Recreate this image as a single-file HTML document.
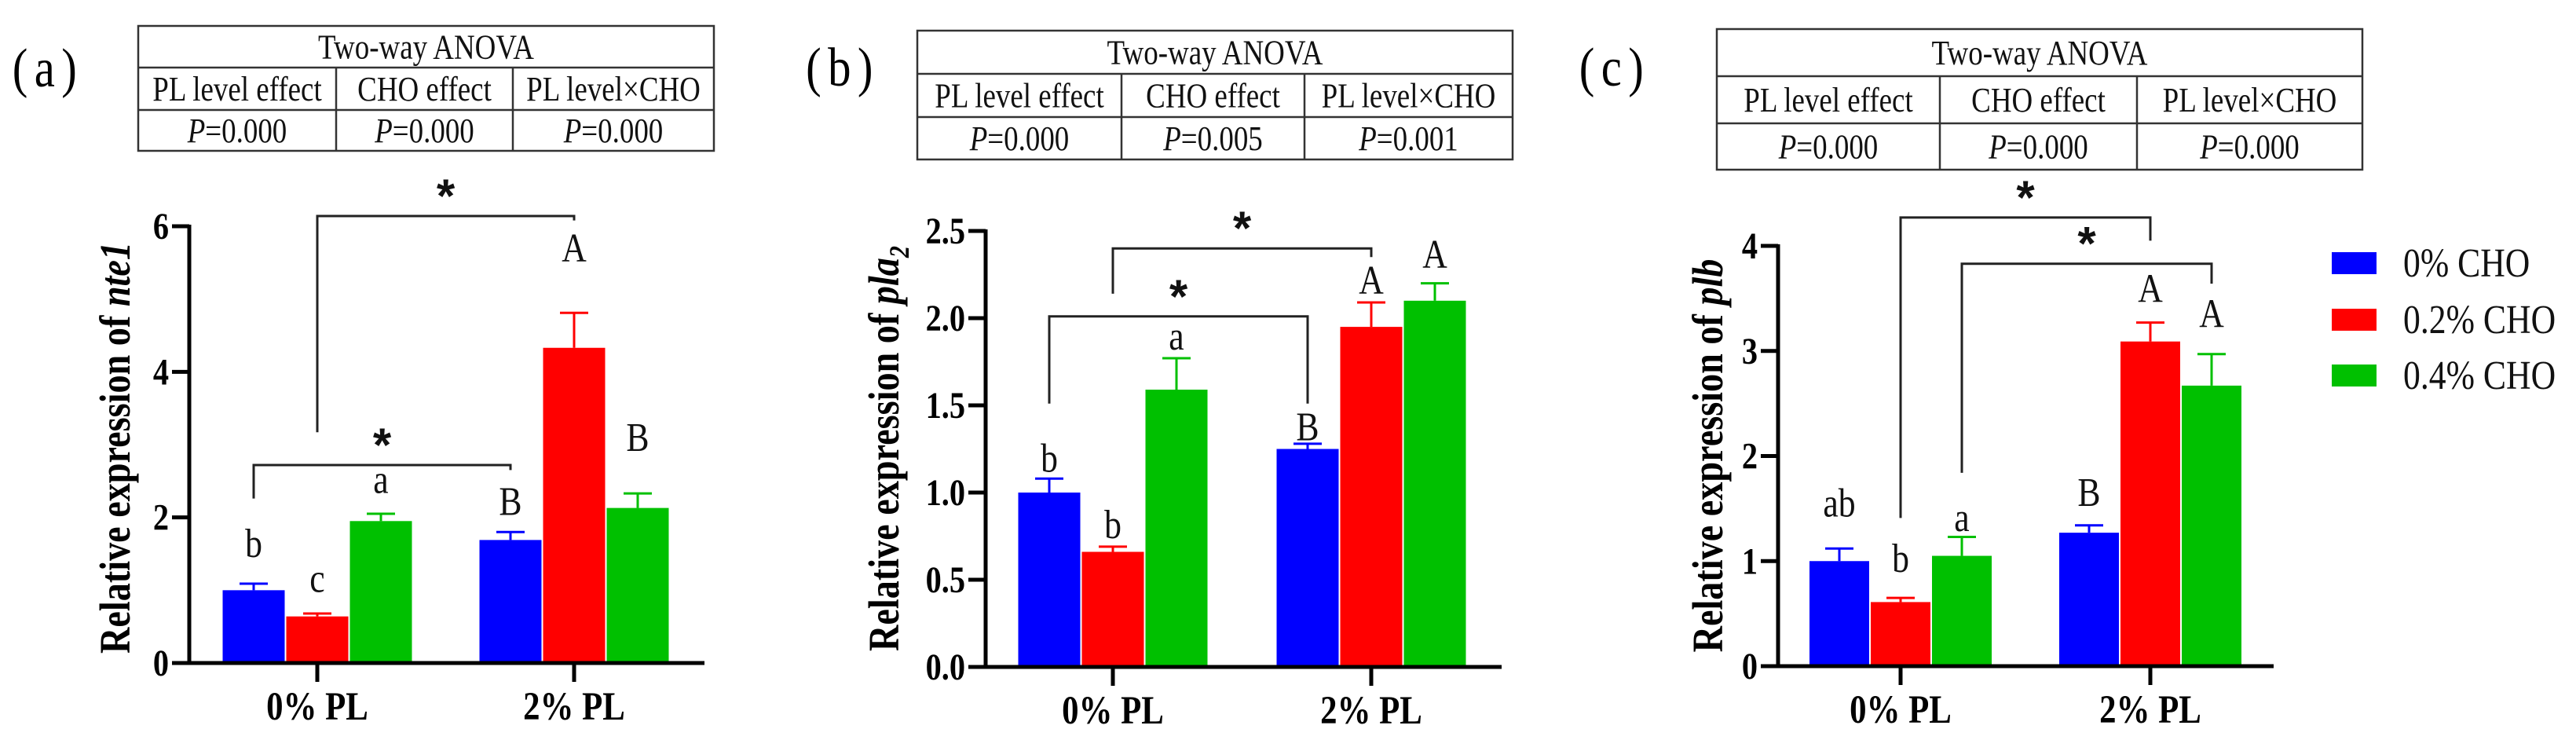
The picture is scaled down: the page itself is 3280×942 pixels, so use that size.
<!DOCTYPE html>
<html><head><meta charset="utf-8"><style>
html,body{margin:0;padding:0;background:#fff;}
svg{display:block;}
svg text{font-family:"Liberation Serif", "DejaVu Serif", serif;}
svg text.star{font-family:"Liberation Sans", sans-serif;}
</style></head><body>
<svg id="fig" width="3280" height="942" viewBox="0 0 3280 942" xmlns="http://www.w3.org/2000/svg">
</svg>
<script>
// ---------- data ----------
const groups = ["0% PL", "2% PL"];
const seriesNames = ["0% CHO", "0.2% CHO", "0.4% CHO"];
const seriesColors = ["#0000ff", "#ff0000", "#00c000"];

const aBlue = [1.0, 1.69], aBlueErr = [0.09, 0.11];
const aRed = [0.64, 4.33], aRedErr = [0.04, 0.48];
const aGreen = [1.95, 2.13], aGreenErr = [0.10, 0.20];
const aTicks = [0, 2, 4, 6];
const aLetters = [["b",1.65],["c",1.17],["a",2.53],["B",2.23],["A",5.71],["B",3.11]];

const bBlue = [1.0, 1.25], bBlueErr = [0.08, 0.03];
const bRed = [0.66, 1.95], bRedErr = [0.03, 0.14];
const bGreen = [1.59, 2.10], bGreenErr = [0.18, 0.10];
const bTicks = ["0.0", "0.5", "1.0", "1.5", "2.0", "2.5"];
const bLetters = [["b",1.20],["b",0.82],["a",1.90],["B",1.38],["A",2.22],["A",2.37]];

const cBlue = [1.0, 1.27], cBlueErr = [0.12, 0.07];
const cRed = [0.61, 3.09], cRedErr = [0.04, 0.18];
const cGreen = [1.05, 2.67], cGreenErr = [0.18, 0.30];
const cTicks = [0, 1, 2, 3, 4];
const cLetters = [["ab",1.56],["b",1.03],["a",1.42],["B",1.66],["A",3.60],["A",3.36]];

// brackets: [fromBar, toBar, yTop, yLeftEnd, yRightEnd]
const aBrackets = [[0,3,2.72,2.26,2.65],[1,4,6.14,3.17,6.08]];
const bBrackets = [[0,3,2.01,1.51,1.51],[1,4,2.40,2.14,2.35]];
const cBrackets = [[1,4,4.27,1.41,4.05],[2,5,3.83,1.84,3.64]];

const aAnova = ["P=0.000","P=0.000","P=0.000"];
const bAnova = ["P=0.000","P=0.005","P=0.001"];
const cAnova = ["P=0.000","P=0.000","P=0.000"];

// ---------- drawing ----------
const NS = "http://www.w3.org/2000/svg";
const svg = document.getElementById("fig");
const SX = 0.84;
function mk(tag, attrs, parent){
  const e = document.createElementNS(NS, tag);
  for (const k in attrs) e.setAttribute(k, attrs[k]);
  (parent||svg).appendChild(e);
  return e;
}
function txt(x, y, size, attrs, parent, rot){
  const a = Object.assign({x:0, y:0, "font-size":size, transform:`translate(${x},${y})${rot?' rotate(-90)':''} scale(${SX},1)`}, attrs);
  return mk("text", a, parent);
}

function drawPanel(cfg){
  const g = mk("g", {});
  
  
  const yS = v => cfg.y0 - (v / cfg.max) * (cfg.y0 - cfg.yTop);
  const barX = i => { const gi = Math.floor(i/3), s = i%3; return cfg.centers[gi] + (s-1)*cfg.barW; };

  const pl = txt(cfg.lab[0], cfg.lab[1]+23, 70, {"text-anchor":"middle", "letter-spacing": 10}, g);
  pl.textContent = "(" + cfg.id + ")";
  
  

  const t = cfg.table;
  const tg = mk("g", {}, g);
  
  
  mk("rect", {x:t.x0, y:t.ys[0], width:t.x1-t.x0, height:t.ys[3]-t.ys[0], fill:"none", stroke:"#333", "stroke-width":2.5}, tg);
  mk("line", {x1:t.x0, x2:t.x1, y1:t.ys[1], y2:t.ys[1], stroke:"#333", "stroke-width":2.5}, tg);
  mk("line", {x1:t.x0, x2:t.x1, y1:t.ys[2], y2:t.ys[2], stroke:"#333", "stroke-width":2.5}, tg);
  mk("line", {x1:t.c1, x2:t.c1, y1:t.ys[1], y2:t.ys[3], stroke:"#333", "stroke-width":2.5}, tg);
  mk("line", {x1:t.c2, x2:t.c2, y1:t.ys[1], y2:t.ys[3], stroke:"#333", "stroke-width":2.5}, tg);
  const hd = txt((t.x0+t.x1)/2, (t.ys[0]+t.ys[1])/2+15, 44, {"text-anchor":"middle", fill:"#111"}, tg);
  hd.textContent = "Two-way ANOVA";
  const cols = [(t.x0+t.c1)/2, (t.c1+t.c2)/2, (t.c2+t.x1)/2];
  const heads = ["PL level effect","CHO effect","PL level×CHO"];
  for (let i=0;i<3;i++){
    const h = txt(cols[i], (t.ys[1]+t.ys[2])/2+15, 44, {"text-anchor":"middle", fill:"#111"}, tg);
    h.textContent = heads[i];
    const p = txt(cols[i], (t.ys[2]+t.ys[3])/2+15, 44, {"text-anchor":"middle", fill:"#111"}, tg);
    const it = mk("tspan", {"font-style":"italic"}, p); it.textContent = "P";
    const rest = mk("tspan", {}, p); rest.textContent = cfg.anova[i].slice(1);
  }

  const vals = [cfg.blue, cfg.red, cfg.green], errs = [cfg.blueErr, cfg.redErr, cfg.greenErr];
  for (let gi=0; gi<2; gi++){
    for (let s=0; s<3; s++){
      const i = gi*3+s, cx = barX(i), v = vals[s][gi], e = errs[s][gi];
      const top = yS(v), cap = yS(v+e);
      const r = mk("rect", {x:cx-cfg.barW/2+1, y:top, width:cfg.barW-2, height:cfg.y0-top, fill:seriesColors[s]}, g);
      
      
      mk("line", {x1:cx, x2:cx, y1:top, y2:cap, stroke:seriesColors[s], "stroke-width":3}, g);
      mk("line", {x1:cx-18, x2:cx+18, y1:cap, y2:cap, stroke:seriesColors[s], "stroke-width":3}, g);
      const L = cfg.letters[i];
      const lt = txt(cx, yS(L[1])+18, 52, {"text-anchor":"middle", fill:"#111"}, g);
      lt.textContent = L[0];
      
      
    }
  }

  cfg.brackets.forEach(b => {
    const x1 = barX(b[0]), x2 = barX(b[1]);
    const p = mk("path", {d:`M${x1},${yS(b[3])} L${x1},${yS(b[2])} L${x2},${yS(b[2])} L${x2},${yS(b[4])}`, fill:"none", stroke:"#222", "stroke-width":3}, g);
    
    
    const st = mk("text", {x:(x1+x2)/2, y:yS(b[2])-5, "font-size":60, "font-weight":"bold", "text-anchor":"middle", "class":"star", fill:"#111"}, g);
    st.textContent = "*";
    
    
  });

  const ax = mk("g", {}, g);
  
  
  mk("line", {x1:cfg.axisX, x2:cfg.axisX, y1:cfg.yTop-2, y2:cfg.y0+2.5, stroke:"#000", "stroke-width":5}, ax);
  mk("line", {x1:cfg.axisX-22, x2:cfg.xEnd, y1:cfg.y0, y2:cfg.y0, stroke:"#000", "stroke-width":5}, ax);
  cfg.ticks.forEach(tk => {
    const y = yS(parseFloat(tk));
    mk("line", {x1:cfg.axisX-22, x2:cfg.axisX, y1:y, y2:y, stroke:"#000", "stroke-width":5}, ax);
    const tl = txt(cfg.axisX-26, y+16, 48, {"font-weight":"bold", "text-anchor":"end"}, ax);
    tl.textContent = String(tk);
  });
  for (let gi=0; gi<2; gi++){
    const cx = cfg.centers[gi];
    mk("line", {x1:cx, x2:cx, y1:cfg.y0, y2:cfg.y0+24, stroke:"#000", "stroke-width":5}, ax);
    const xl = txt(cx, cfg.y0+72, 51, {"font-weight":"bold", "text-anchor":"middle"}, ax);
    xl.textContent = groups[gi];
    
    
  }
  const yl = txt(cfg.ylab[0]+18, cfg.ylab[1], 55, {"font-weight":"bold", "text-anchor":"middle"}, g, true);
  
  
  const t1 = mk("tspan", {}, yl); t1.textContent = "Relative expression of ";
  const t2 = mk("tspan", {"font-style":"italic"}, yl); t2.textContent = cfg.gene;
  if (cfg.sub){ const t3 = mk("tspan", {"font-style":"italic", "font-size":36, dy:13}, yl); t3.textContent = cfg.sub; }
}

drawPanel({id:"a", lab:[61,87], table:{x0:176,x1:909,c1:428,c2:653,ys:[33,86,140,192]}, anova:aAnova,
  axisX:241, y0:844, yTop:288, max:6, xEnd:897, centers:[404,731], barW:81, ticks:aTicks,
  blue:aBlue, blueErr:aBlueErr, red:aRed, redErr:aRedErr, green:aGreen, greenErr:aGreenErr,
  letters:aLetters, brackets:aBrackets, ylab:[147,570], gene:"nte1"});
drawPanel({id:"b", lab:[1073,86], table:{x0:1168,x1:1926,c1:1428,c2:1661,ys:[39,94,149,203]}, anova:bAnova,
  axisX:1255, y0:849, yTop:294, max:2.5, xEnd:1912, centers:[1417,1746], barW:81, ticks:bTicks,
  blue:bBlue, blueErr:bBlueErr, red:bRed, redErr:bRedErr, green:bGreen, greenErr:bGreenErr,
  letters:bLetters, brackets:bBrackets, ylab:[1126,571], gene:"pla", sub:"2"});
drawPanel({id:"c", lab:[2056,86], table:{x0:2186,x1:3008,c1:2470,c2:2721,ys:[37,97,157,216]}, anova:cAnova,
  axisX:2264, y0:848, yTop:313, max:4, xEnd:2895, centers:[2420,2738], barW:78, ticks:cTicks,
  blue:cBlue, blueErr:cBlueErr, red:cRed, redErr:cRedErr, green:cGreen, greenErr:cGreenErr,
  letters:cLetters, brackets:cBrackets, ylab:[2175,580], gene:"plb"});

const lg = mk("g", {});


const legY = [335, 407, 478];
for (let s=0; s<3; s++){
  const r = mk("rect", {x:2969, y:legY[s]-14, width:57, height:28, fill:seriesColors[s]}, lg);
  
  
  const t = txt(3060, legY[s]+17, 52, {fill:"#111"}, lg);
  t.textContent = seriesNames[s];
  
  
}
</script>
</body></html>
